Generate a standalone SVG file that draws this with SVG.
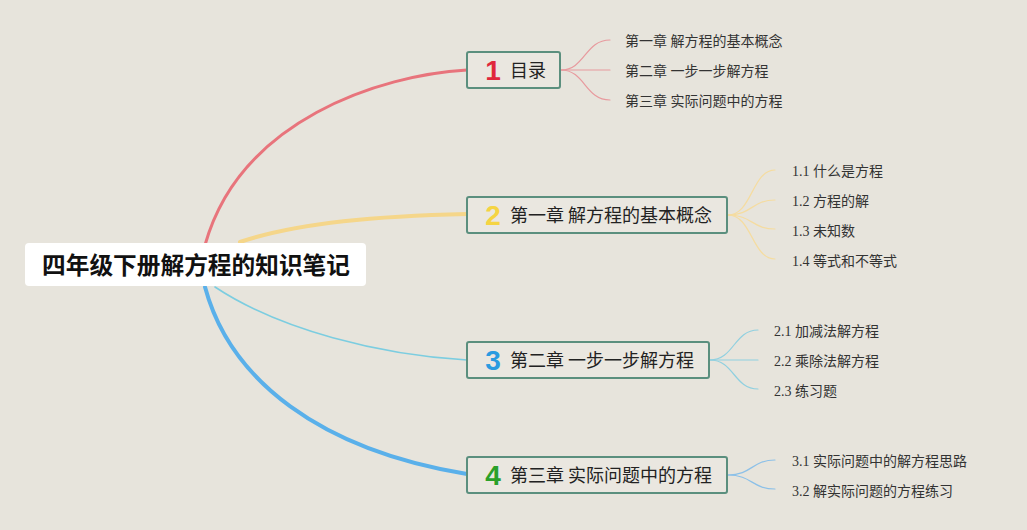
<svg xmlns="http://www.w3.org/2000/svg" width="1027" height="530" viewBox="0 0 1027 530">
<style>
.bg{fill:#e7e4dc}
.box{fill:#eae7e0;stroke:#5b8f7e;stroke-width:2}
.title{font-family:"Noto Sans CJK SC","Liberation Sans",sans-serif;font-size:18px;fill:#222}
.num{font-family:"Liberation Sans",Arial,sans-serif;font-weight:900;font-size:28px}
.sub{font-family:"Liberation Serif","Noto Sans CJK SC",serif;font-size:14px;fill:#333}
.root{font-family:"Noto Sans CJK SC","Liberation Sans",sans-serif;font-size:23.7px;font-weight:bold;fill:#111}
.c{fill:none;stroke-linecap:round}
</style>
<rect class="bg" x="0" y="0" width="1027" height="530"/>
<g id="connectors">
  <path class="c" d="M205,245 C240,120 380,75 467,70" stroke="#e8747c" stroke-width="3"/>
  <path class="c" d="M240,242 C300,222 380,216 467,214" stroke="#f5d68a" stroke-width="4"/>
  <path class="c" d="M215,287 C280,330 380,355 467,360" stroke="#7ccde0" stroke-width="1.6"/>
  <path class="c" d="M205,287 C230,380 320,450 467,474" stroke="#5ab0ea" stroke-width="4"/>
  <g stroke="#e89a9e" stroke-width="1.2" class="c">
    <path d="M561,70 C585,70 585,40 610,40"/>
    <path d="M561,70 L610,70"/>
    <path d="M561,70 C585,70 585,100 610,100"/>
  </g>
  <g stroke="#f5dca0" stroke-width="1.2" class="c">
    <path d="M728,215 C752,215 752,170 775,170"/>
    <path d="M728,215 C752,215 752,200 775,200"/>
    <path d="M728,215 C752,215 752,229 775,229"/>
    <path d="M728,215 C752,215 752,259 775,259"/>
  </g>
  <g stroke="#90d0e0" stroke-width="1.2" class="c">
    <path d="M710,360 C734,360 734,330 758,330"/>
    <path d="M710,360 L758,360"/>
    <path d="M710,360 C734,360 734,389 758,389"/>
  </g>
  <g stroke="#8cc0e8" stroke-width="1.2" class="c">
    <path d="M728,475 C752,475 752,460 775,460"/>
    <path d="M728,475 C752,475 752,489 775,489"/>
  </g>
</g>
<g id="root">
  <rect x="25" y="243" width="341" height="43" rx="4" fill="#ffffff"/>
  <text class="root" x="196" y="274" text-anchor="middle">四年级下册解方程的知识笔记</text>
</g>
<g id="n1">
  <rect class="box" x="467" y="52" width="93" height="36" rx="2"/>
  <text class="num" x="493" y="80" text-anchor="middle" fill="#e0283c">1</text>
  <text class="title" x="510" y="77">目录</text>
</g>
<g id="n2">
  <rect class="box" x="467" y="197" width="260" height="36" rx="2"/>
  <text class="num" x="493" y="225" text-anchor="middle" fill="#f5d442">2</text>
  <text class="title" x="510" y="222">第一章 解方程的基本概念</text>
</g>
<g id="n3">
  <rect class="box" x="467" y="342" width="242" height="36" rx="2"/>
  <text class="num" x="493" y="370" text-anchor="middle" fill="#2a9be0">3</text>
  <text class="title" x="510" y="367">第二章 一步一步解方程</text>
</g>
<g id="n4">
  <rect class="box" x="467" y="457" width="260" height="36" rx="2"/>
  <text class="num" x="493" y="485" text-anchor="middle" fill="#2aa02a">4</text>
  <text class="title" x="510" y="482">第三章 实际问题中的方程</text>
</g>
<g id="n1-children">
  <text class="sub" x="625" y="46">第一章 解方程的基本概念</text>
  <text class="sub" x="625" y="76">第二章 一步一步解方程</text>
  <text class="sub" x="625" y="106">第三章 实际问题中的方程</text>
</g>
<g id="n2-children">
  <text class="sub" x="792" y="176">1.1 什么是方程</text>
  <text class="sub" x="792" y="206">1.2 方程的解</text>
  <text class="sub" x="792" y="236">1.3 未知数</text>
  <text class="sub" x="792" y="266">1.4 等式和不等式</text>
</g>
<g id="n3-children">
  <text class="sub" x="774" y="336">2.1 加减法解方程</text>
  <text class="sub" x="774" y="366">2.2 乘除法解方程</text>
  <text class="sub" x="774" y="396">2.3 练习题</text>
</g>
<g id="n4-children">
  <text class="sub" x="792" y="466">3.1 实际问题中的解方程思路</text>
  <text class="sub" x="792" y="496">3.2 解实际问题的方程练习</text>
</g>
</svg>
